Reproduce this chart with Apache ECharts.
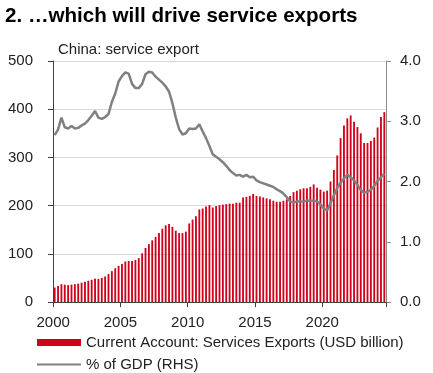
<!DOCTYPE html>
<html>
<head>
<meta charset="utf-8">
<script src="https://cdn.jsdelivr.net/npm/echarts@6/dist/echarts.min.js"></script>
<style>
html,body{margin:0;padding:0;background:#fff;}
#c{width:433px;height:373px;}
</style>
</head>
<body>
<div id="c"></div>
<script>
const titleText = '2. \u2026which will drive service exports';
const subtitleText = 'China: service export';
const barName = 'Current Account: Services Exports (USD billion)';
const lineName = '% of GDP (RHS)';

const years = [2000,2001,2002,2003,2004,2005,2006,2007,2008,2009,2010,2011,2012,2013,2014,2015,2016,2017,2018,2019,2020,2021,2022,2023,2024];
const quarters = [];
years.forEach(y => { for (let q = 1; q <= 4; q++) { if (!(y === 2024 && q > 3)) quarters.push(y + 'Q' + q); } });

const yearTickLabels = ['2000','2005','2010','2015','2020'];
const leftTicks = [0,100,200,300,400,500];
const rightTicks = [0,1,2,3,4];

const servicesExports = [
  30, 33, 37, 36,
  35, 36, 37, 38,
  40, 42, 44, 46,
  48, 48, 50, 53,
  58, 64, 70, 75,
  79, 84, 85, 85,
  87, 91, 101, 112,
  120, 128, 135, 143,
  152, 159, 162, 156,
  148, 143, 143, 146,
  163, 171, 178, 192,
  194, 198, 201, 196,
  199, 201, 202, 203,
  204, 204, 206, 206,
  217, 218, 220, 224,
  220, 219, 217, 215,
  213, 210, 208, 208,
  210, 213, 220, 228,
  231, 234, 236, 236,
  239, 244, 237, 233,
  229, 231, 250, 274,
  304, 340, 366, 381,
  387, 374, 363, 350,
  330, 330, 334, 341,
  362, 384, 394
];

const pctGDP = [
  2.77, 2.86, 3.06, 2.90,
  2.88, 2.92, 2.88, 2.89,
  2.93, 2.96, 3.02, 3.09,
  3.17, 3.06, 3.04, 3.07,
  3.12, 3.32, 3.46, 3.66,
  3.75, 3.81, 3.79, 3.62,
  3.55, 3.55, 3.62, 3.78,
  3.82, 3.81, 3.74, 3.69,
  3.64, 3.58, 3.49, 3.30,
  3.06, 2.87, 2.78, 2.80,
  2.88, 2.87, 2.88, 2.95,
  2.83, 2.72, 2.59, 2.45,
  2.41, 2.37, 2.32, 2.26,
  2.19, 2.14, 2.10, 2.11,
  2.08, 2.11, 2.07, 2.08,
  2.02, 1.99, 1.97, 1.95,
  1.93, 1.91, 1.87, 1.84,
  1.80, 1.74, 1.67, 1.65,
  1.67, 1.67, 1.67, 1.68,
  1.68, 1.68, 1.67, 1.62,
  1.55, 1.52, 1.64, 1.77,
  1.89, 1.98, 2.05, 2.11,
  2.07, 2.02, 1.94, 1.86,
  1.81, 1.83, 1.86, 1.93,
  2.01, 2.07, 2.13
];

const FONT = "'Liberation Sans', Arial, sans-serif";
const chart = echarts.init(document.getElementById('c'), null, {renderer: 'canvas'});

const showYear = (idx, val) => yearTickLabels.indexOf(String(val).slice(0,4)) >= 0 && String(val).endsWith('Q1');

const legendText = { fontFamily: FONT, fontSize: 15, color: '#222' };

chart.setOption({
  animation: false,
  backgroundColor: '#ffffff',
  title: [
    { text: titleText, left: 5, top: 6, padding: 0,
      textStyle: { fontFamily: FONT, fontSize: 20.6, fontWeight: 'bold', color: '#000' } },
    { text: subtitleText, left: 58, top: 42, padding: 0,
      textStyle: { fontFamily: FONT, fontSize: 15, fontWeight: 'normal', color: '#222' } }
  ],
  legend: [
    { left: 37, top: 335, padding: 0, itemWidth: 44, itemHeight: 7,
      textStyle: legendText, selectedMode: false,
      data: [{ name: barName, icon: 'rect' }] },
    { left: 37, top: 357, padding: 0, itemWidth: 44, itemHeight: 2,
      textStyle: legendText, selectedMode: false,
      itemStyle: { color: '#808080' },
      data: [{ name: lineName, icon: 'rect' }] }
  ],
  grid: { left: 53, right: 47, top: 61, bottom: 71, containLabel: false },
  xAxis: {
    type: 'category',
    data: quarters,
    boundaryGap: true,
    axisLine: { lineStyle: { color: '#404040', width: 1 } },
    axisTick: { show: true, interval: showYear, length: 5, lineStyle: { color: '#404040' } },
    axisLabel: {
      interval: showYear,
      formatter: v => v.slice(0,4),
      fontFamily: FONT, fontSize: 15, color: '#222', margin: 13,
      padding: [0, 3, 0, 0]
    },
    splitLine: { show: false }
  },
  yAxis: [
    {
      type: 'value', min: leftTicks[0], max: leftTicks[leftTicks.length-1], interval: 100,
      axisLine: { show: true, lineStyle: { color: '#404040', width: 1 } },
      axisTick: { show: true, length: 5, lineStyle: { color: '#404040' } },
      axisLabel: { fontFamily: FONT, fontSize: 15, color: '#222', margin: 20 },
      splitLine: { show: true, lineStyle: { color: '#d9d9d9', width: 1 } }
    },
    {
      type: 'value', min: rightTicks[0], max: rightTicks[rightTicks.length-1], interval: 1,
      position: 'right',
      axisLine: { show: true, lineStyle: { color: '#8c8c8c', width: 1 } },
      axisTick: { show: true, length: 5, lineStyle: { color: '#8c8c8c' } },
      axisLabel: { fontFamily: FONT, fontSize: 15, color: '#222', margin: 14, formatter: v => v.toFixed(1) },
      splitLine: { show: false }
    }
  ],
  series: [
    {
      name: barName, type: 'bar', data: servicesExports,
      yAxisIndex: 0, barWidth: '55%',
      itemStyle: { color: '#D0021B' }
    },
    {
      name: lineName, type: 'line', data: pctGDP,
      yAxisIndex: 1, symbol: 'none', smooth: false,
      lineStyle: { color: '#808080', width: 2.5 },
      itemStyle: { color: '#808080' }
    }
  ]
});
</script>
</body>
</html>
